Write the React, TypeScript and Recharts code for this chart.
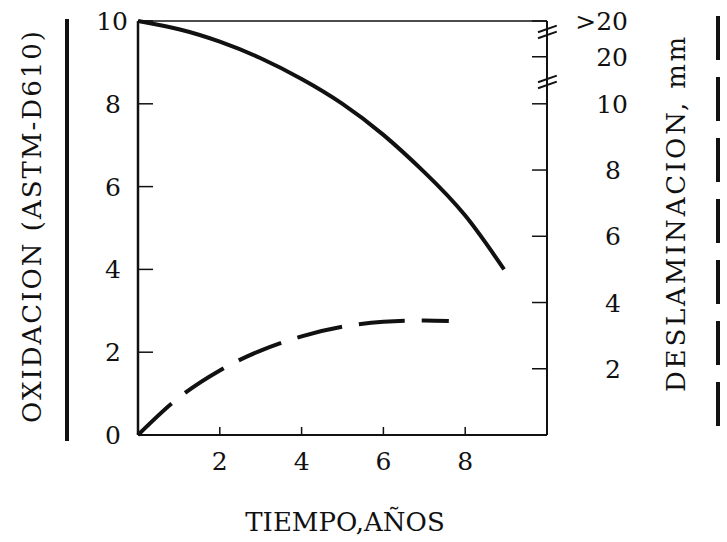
import { LineChart, Line, XAxis, YAxis, ReferenceLine } from 'recharts';

// Oxidación (ASTM-D610), eje izquierdo
const OX_YEARS = [0, 1, 2, 3, 4, 5, 6, 7, 8, 8.95];
const OX_VALUES = [10, 9.8, 9.5, 9.1, 8.6, 8.0, 7.25, 6.35, 5.3, 4.0];

// Deslaminación (mm), eje derecho
const DES_YEARS = [0, 1, 2, 3, 4, 5, 6, 7, 7.6];
const DES_VALUES = [0, 1.13, 1.95, 2.55, 2.98, 3.27, 3.42, 3.46, 3.44];

const X_TICKS = [2, 4, 6, 8];
const LEFT_TICKS = [0, 2, 4, 6, 8, 10];
// the right scale is linear up to 10, then broken: 20 and >20 sit above it
const RIGHT_TICKS = [2, 4, 6, 8, 10, 11.42, 12.5];
const RIGHT_LABELS = ['2', '4', '6', '8', '10', '20', '>20'];
const RIGHT_BREAKS = [10.66, 12.17];

const FONT = '"DejaVu Serif", "Liberation Serif", serif';
const INK = '#111';
const TICK_SIZE = 25;

const years = Array.from(new Set([...OX_YEARS, ...DES_YEARS])).sort((a, b) => a - b);
const rows = years.map((x) => {
  const i = OX_YEARS.indexOf(x);
  const j = DES_YEARS.indexOf(x);
  return {
    x,
    ox: i >= 0 ? OX_VALUES[i] : undefined,
    des: j >= 0 ? DES_VALUES[j] : undefined,
  };
});

// single digits are centred, longer labels end a little further out
function NumTick({ x, y, label }: { x: number; y: number; label: string }) {
  const wide = label.length > 1;
  return (
    <text
      x={wide ? x + 15 : x}
      y={y}
      dy="0.36em"
      textAnchor={wide ? 'end' : 'middle'}
      fontFamily={FONT}
      fontSize={TICK_SIZE}
      fill={INK}
    >
      {label}
    </text>
  );
}

function LeftTick(props: any) {
  return <NumTick x={props.x} y={props.y} label={String(props.payload.value)} />;
}

function RightTick(props: any) {
  const label = RIGHT_LABELS[RIGHT_TICKS.indexOf(props.payload.value)] ?? '';
  return <NumTick x={props.x} y={props.y} label={label} />;
}

export default function App() {
  return (
    <div style={{ position: 'absolute', left: 0, top: 0, width: 727, height: 542, background: '#fff' }}>
      <LineChart width={727} height={542} data={rows} margin={{ top: 21, right: 0, left: 0, bottom: 0 }}>
        <XAxis
          dataKey="x"
          type="number"
          domain={[0, 10]}
          ticks={X_TICKS}
          interval={0}
          height={107}
          axisLine={{ stroke: INK, strokeWidth: 2 }}
          tickLine={{ stroke: INK, strokeWidth: 1.5 }}
          tickSize={-8}
          tickMargin={25}
          tick={{ fill: INK, fontSize: TICK_SIZE, fontFamily: FONT }}
        />
        <YAxis
          yAxisId="left"
          type="number"
          domain={[0, 10]}
          ticks={LEFT_TICKS}
          interval={0}
          width={138}
          axisLine={{ stroke: INK, strokeWidth: 2.5 }}
          tickLine={{ stroke: INK, strokeWidth: 1.5 }}
          tickSize={-15}
          tickMargin={40}
          tick={<LeftTick />}
        />
        <YAxis
          yAxisId="right"
          orientation="right"
          type="number"
          domain={[0, 12.5]}
          ticks={RIGHT_TICKS}
          interval={0}
          width={180}
          axisLine={{ stroke: INK, strokeWidth: 2 }}
          tickLine={{ stroke: INK, strokeWidth: 1.5 }}
          tickSize={-15}
          tickMargin={81}
          tick={<RightTick />}
        />
        <ReferenceLine yAxisId="left" y={10} stroke={INK} strokeWidth={1.5} />
        {RIGHT_BREAKS.flatMap((b) =>
          [-0.09, 0.09].map((off) => (
            <ReferenceLine
              key={`${b}-${off}`}
              yAxisId="right"
              ifOverflow="visible"
              segment={[
                { x: 9.78, y: b + off - 0.1 },
                { x: 10.24, y: b + off + 0.1 },
              ]}
              stroke={INK}
              strokeWidth={2}
            />
          ))
        )}
        <Line
          yAxisId="left"
          dataKey="ox"
          type="natural"
          stroke={INK}
          strokeWidth={4}
          dot={false}
          activeDot={false}
          connectNulls
          isAnimationActive={false}
        />
        <Line
          yAxisId="right"
          dataKey="des"
          type="monotone"
          stroke={INK}
          strokeWidth={4}
          strokeDasharray="46 17"
          dot={false}
          activeDot={false}
          connectNulls
          isAnimationActive={false}
        />
      </LineChart>
      <svg width={727} height={542} style={{ position: 'absolute', left: 0, top: 0, pointerEvents: 'none' }}>
        <text
          transform="translate(41 226) rotate(-90)"
          textAnchor="middle"
          fontFamily={FONT}
          fontSize={26}
          letterSpacing={2}
          fill={INK}
        >
          OXIDACION (ASTM-D610)
        </text>
        <line x1={67} y1={19} x2={67} y2={441} stroke={INK} strokeWidth={4} />
        <text
          transform="translate(685 213) rotate(-90)"
          textAnchor="middle"
          fontFamily={FONT}
          fontSize={26}
          letterSpacing={2.8}
          fill={INK}
        >
          DESLAMINACION, mm
        </text>
        <line x1={718} y1={16} x2={718} y2={430} stroke={INK} strokeWidth={4} strokeDasharray="44 17" />
        <text x={345} y={531} textAnchor="middle" fontFamily={FONT} fontSize={26} fill={INK}>
          TIEMPO,AÑOS
        </text>
      </svg>
    </div>
  );
}
